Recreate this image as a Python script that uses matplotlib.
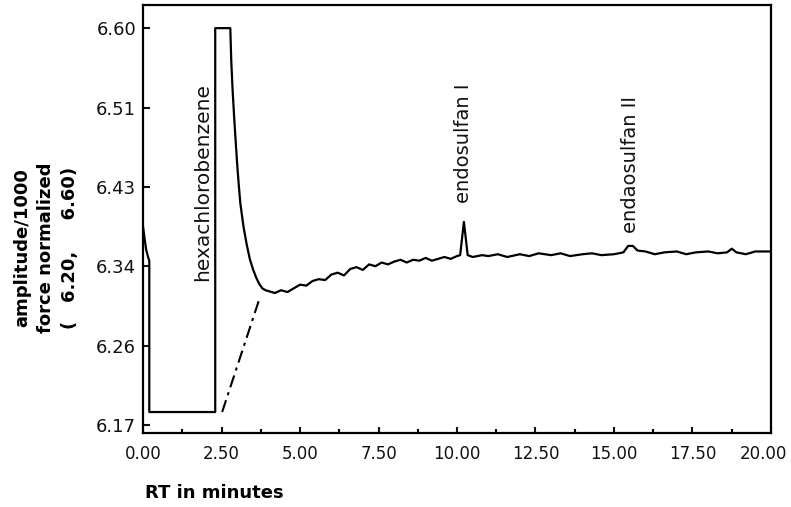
import numpy as np
import matplotlib
matplotlib.use('Agg')
import matplotlib.pyplot as plt
import matplotlib.transforms as mtransforms
from matplotlib.ticker import MultipleLocator, FixedLocator, FormatStrFormatter

# -----------------------------------------------------------------------------
# ---------------------- Chromatogram data --------------
# -----------------------------------------------------------------------------

# retention time in minutes
rt = [0.00, 0.05, 0.10, 0.16, 0.20, 0.20, 2.30, 2.30, 2.78,
      2.81, 2.85, 2.90, 2.95, 3.00, 3.05, 3.10, 3.20, 3.30, 3.40,
      3.50, 3.60, 3.70, 3.80, 3.90, 4.00, 4.20, 4.40, 4.60, 4.80,
      5.00, 5.20, 5.40, 5.60, 5.80, 6.00, 6.20, 6.40, 6.60, 6.80,
      7.00, 7.20, 7.40, 7.60, 7.80, 8.00, 8.20, 8.40, 8.60, 8.80,
      9.00, 9.20, 9.40, 9.60, 9.80, 10.00, 10.10, 10.22, 10.34, 10.50,
      10.80, 11.00, 11.30, 11.60, 12.00, 12.30, 12.60, 13.00, 13.30, 13.60,
      14.00, 14.30, 14.60, 15.00, 15.30, 15.45, 15.60, 15.75, 16.00, 16.30,
      16.60, 17.00, 17.30, 17.60, 18.00, 18.30, 18.60, 18.75, 18.90, 19.20,
      19.50, 19.80, 20.00]

# normalized force amplitude / 1000
amplitude = [6.385, 6.372, 6.360, 6.352, 6.348, 6.184, 6.184, 6.600, 6.600,
             6.565, 6.535, 6.505, 6.478, 6.452, 6.430, 6.410, 6.385, 6.366, 6.350,
             6.339, 6.330, 6.323, 6.318, 6.316, 6.315, 6.313, 6.316, 6.314, 6.318,
             6.322, 6.321, 6.326, 6.328, 6.327, 6.333, 6.335, 6.332, 6.339, 6.341,
             6.338, 6.344, 6.342, 6.346, 6.344, 6.347, 6.349, 6.346, 6.349, 6.348,
             6.351, 6.348, 6.350, 6.352, 6.350, 6.353, 6.354, 6.390, 6.354, 6.352,
             6.354, 6.353, 6.355, 6.352, 6.355, 6.353, 6.356, 6.354, 6.356, 6.353,
             6.355, 6.356, 6.354, 6.355, 6.357, 6.364, 6.364, 6.359, 6.358, 6.355,
             6.357, 6.358, 6.355, 6.357, 6.358, 6.356, 6.357, 6.361, 6.357, 6.355,
             6.358, 6.358, 6.358]

# dash-dot baseline under the hexachlorobenzene peak
base_rt = [2.52, 3.73]
base_amp = [6.184, 6.309]

# peak labels: text, retention time, amplitude at bottom of text
peak_names = ['hexachlorobenzene', 'endosulfan I', 'endaosulfan II']
peak_rt = [1.90, 10.22, 15.53]
peak_amp = [6.326, 6.410, 6.378]
peak_size = [14.5, 14, 14]

y_ticks = [6.17, 6.256, 6.342, 6.428, 6.514, 6.60]
x_ticks = [0.0, 2.5, 5.0, 7.5, 10.0, 12.5, 15.0, 17.5, 20.0]

# -----------------------------------------------------------------------------
# ---------------------- Plot -------------------------------------------------
# -----------------------------------------------------------------------------

plt.rcParams['font.family'] = ['DejaVu Sans']

fig = plt.figure(figsize=(7.91, 5.07), dpi=100)
ax = fig.add_axes([0.1808, 0.146, 0.7939, 0.844])

ax.plot(rt, amplitude, color='black', lw=1.6, solid_joinstyle='round')
ax.plot(base_rt, base_amp, color='black', lw=1.5, ls=(0, (6, 2.5, 1.5, 2.5)))

for name, x, y, s in zip(peak_names, peak_rt, peak_amp, peak_size):
    ax.text(x, y, name, rotation=90, ha='center', va='bottom',
            fontsize=s, color='#111111')

ax.set_xlim(0, 20)
ax.set_ylim(6.1613, 6.625)

ax.xaxis.set_major_locator(FixedLocator(x_ticks))
ax.xaxis.set_minor_locator(MultipleLocator(1.25))
ax.yaxis.set_major_locator(FixedLocator(y_ticks))
ax.xaxis.set_major_formatter(FormatStrFormatter('%.2f'))
ax.yaxis.set_major_formatter(FormatStrFormatter('%.2f'))

ax.tick_params(axis='x', which='major', direction='in', length=4, width=1.5,
               pad=9, labelsize=12, colors='#111111')
ax.tick_params(axis='x', which='minor', direction='in', length=3, width=1.5)
ax.tick_params(axis='y', direction='in', length=5, width=1.5,
               pad=5, labelsize=13, colors='#111111')

for sp in ax.spines.values():
    sp.set_linewidth(1.6)

# last x label sits a little to the left so it stays inside the figure
fig.canvas.draw()
last = ax.get_xticklabels()[-1]
last.set_transform(last.get_transform() +
                   mtransforms.ScaledTranslation(-8 / 100, 0, fig.dpi_scale_trans))

fig.text(46 / 791, 1 - 248 / 507,
         'amplitude/1000\nforce normalized\n(   6.20,     6.60)',
         rotation=90, ha='center', va='center', multialignment='center',
         fontsize=13, fontweight='bold', linespacing=1.4)

fig.text(145 / 791, 1 - 493 / 507, 'RT in minutes', ha='left', va='center',
         fontsize=13, fontweight='bold')

fig.savefig('out.png', dpi=100)
